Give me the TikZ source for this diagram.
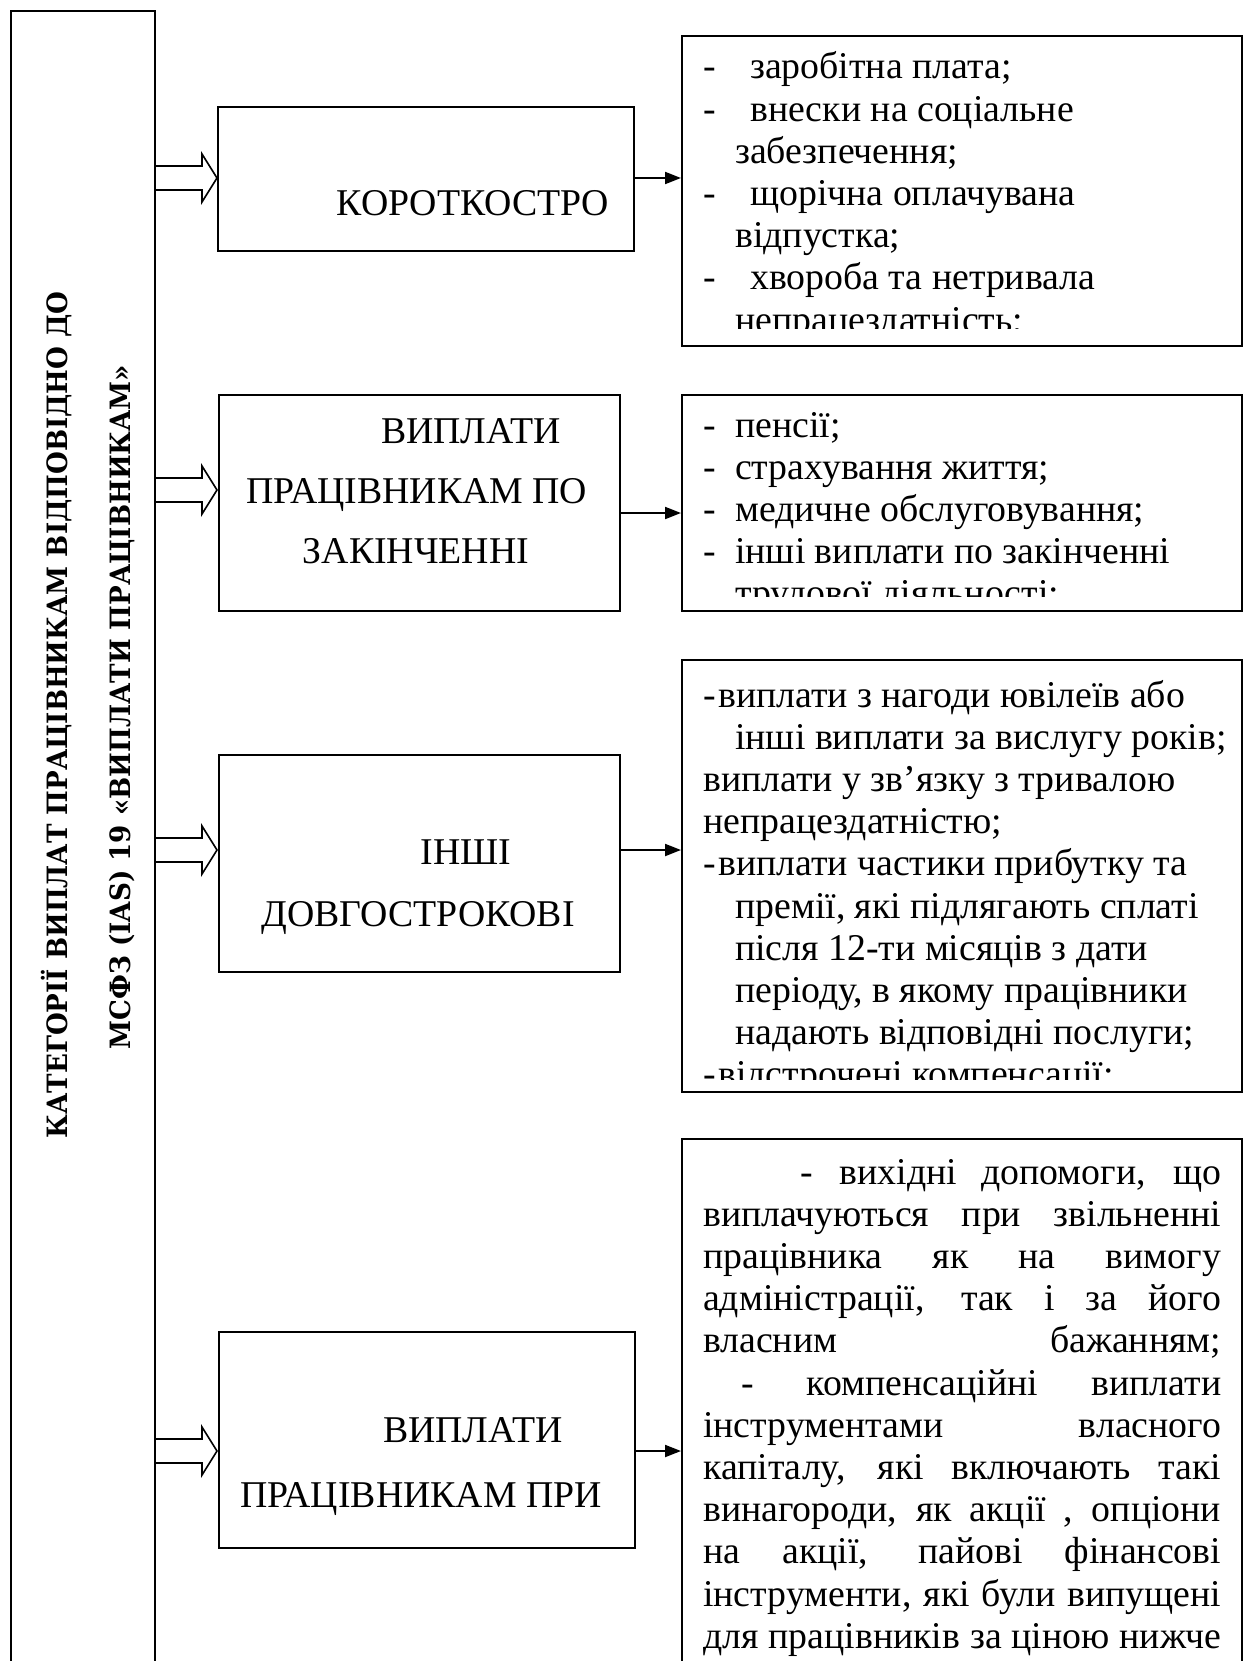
\documentclass[tikz,border=0pt]{standalone}
\usepackage{fontspec}
\setmainfont{Liberation Serif}
\newfontfamily\vfont{DejaVu Serif}
\usetikzlibrary{arrows.meta,calc}
\newcommand\dsh[1]{\makebox[#1][l]{-}}
\newcommand\ind[1]{\hspace*{#1}}
\newcommand\vsq[1]{\scalebox{0.935}[1]{#1}}
\begin{document}
\begin{tikzpicture}[x=1pt,y=-1pt,
  box/.style={draw, line width=2pt, inner sep=0pt, anchor=north west},
  lbl/.style={anchor=base, inner sep=0pt, font=\fontsize{37.8}{42}\selectfont},
  txt/.style={anchor=base west, inner sep=0pt, font=\fontsize{37.8}{42.2}\selectfont},
  vtxt/.style={rotate=90, anchor=base, inner sep=0pt, font=\vfont\bfseries\fontsize{28}{34}\selectfont},
  conn/.style={line width=2pt, -{Triangle[length=16pt,width=12pt]}},
  hollowline/.style={line width=1.6pt, line join=miter}]
\clip (0,0) rectangle (1250,1661);
\fill[white] (0,0) rectangle (1250,1661);

% left vertical box
\node[box, minimum width=144, minimum height=1800] (L) at (10,10) {};
\node[vtxt] (t1) at (67,715) {\vsq{КАТЕГОРІЇ ВИПЛАТ ПРАЦІВНИКАМ ВІДПОВІДНО ДО}};
\node[vtxt] (t2) at (130,707) {\vsq{МСФЗ (IAS) 19 «ВИПЛАТИ ПРАЦІВНИКАМ»}};

% middle boxes
\node[box, minimum width=416, minimum height=144] (b1) at (217,106) {};
\node[box, minimum width=401, minimum height=216] (b2) at (218,394) {};
\node[box, minimum width=401, minimum height=217] (b3) at (218,754) {};
\node[box, minimum width=416, minimum height=216] (b4) at (218,1331) {};

\node[lbl] (k1) at (473,216) {КОРОТКОСТРО};
\node[lbl] (k2a) at (471,443) {ВИПЛАТИ};
\node[lbl] (k2b) at (417,503) {ПРАЦІВНИКАМ ПО};
\node[lbl] (k2c) at (416,563) {ЗАКІНЧЕННІ};
\node[lbl] (k3a) at (466,864) {ІНШІ};
\node[lbl] (k3b) at (418,926) {ДОВГОСТРОКОВІ};
\node[lbl] (k4a) at (473,1442) {ВИПЛАТИ};
\node[lbl] (k4b) at (421,1507) {ПРАЦІВНИКАМ ПРИ};

% right boxes
\node[box, minimum width=560, minimum height=310] (r1) at (681,35) {};
\node[box, minimum width=560, minimum height=216] (r2) at (681,394) {};
\node[box, minimum width=560, minimum height=432] (r3) at (681,659) {};
\node[box, minimum width=560, minimum height=700] (r4) at (681,1138) {};

\begin{scope}
\clip (683,37) rectangle (1239,328);
\node[txt] (x1) at (703,79) {\parbox[t]{530pt}{%
\dsh{47pt}заробітна плата;\\
\dsh{47pt}внески на соціальне\\
\ind{32pt}забезпечення;\\
\dsh{47pt}щорічна оплачувана\\
\ind{32pt}відпустка;\\
\dsh{47pt}хвороба та нетривала\\
\ind{32pt}непрацездатність;}};
\end{scope}

\begin{scope}
\clip (683,396) rectangle (1239,596);
\node[txt] (x2) at (703,437) {\parbox[t]{530pt}{%
\dsh{32pt}пенсії;\\
\dsh{32pt}страхування життя;\\
\dsh{32pt}медичне обслуговування;\\
\dsh{32pt}інші виплати по закінченні\\
\ind{32pt}трудової діяльності;}};
\end{scope}

\begin{scope}
\clip (683,661) rectangle (1239,1079);
\node[txt] (x3) at (703,707) {\parbox[t]{530pt}{%
\dsh{15pt}виплати з нагоди ювілеїв або\\
\ind{32pt}інші виплати за вислугу років;\\
виплати у зв’язку з тривалою\\
непрацездатністю;\\
\dsh{15pt}виплати частики прибутку та\\
\ind{32pt}премії, які підлягають сплаті\\
\ind{32pt}після 12-ти місяців з дати\\
\ind{32pt}періоду, в якому працівники\\
\ind{32pt}надають відповідні послуги;\\
\dsh{15pt}відстрочені компенсації;}};
\end{scope}

\node[txt] (x4) at (703,1184) {\parbox[t]{530pt}{%
\ind{97pt}\makebox[421pt][s]{-\hspace{27pt}вихідні допомоги, що}\\
\makebox[518pt][s]{виплачуються при звільненні}\\
\makebox[518pt][s]{працівника як на вимогу}\\
\makebox[518pt][s]{адміністрації, так і за його}\\
\makebox[518pt][s]{власним бажанням;}\\
\ind{38pt}\makebox[480pt][s]{- компенсаційні виплати}\\
\makebox[518pt][s]{інструментами власного}\\
\makebox[518pt][s]{капіталу, які включають такі}\\
\makebox[518pt][s]{винагороди, як акції , опціони}\\
\makebox[518pt][s]{на акції, пайові фінансові}\\
\makebox[518pt][s]{інструменти, які були випущені}\\
\makebox[518pt][s]{для працівників за ціною нижче}}};

% hollow block arrows from the left box
\coordinate (h1) at (154,178);
\coordinate (h2) at (154,490);
\coordinate (h3) at (154,850);
\coordinate (h4) at (154,1451);
\foreach \h in {h1,h2,h3,h4}{
  \draw[hollowline] ($(\h)+(0,-12)$) -- ++(48,0) -- ++(0,-12) -- ($(\h)+(63,0)$)
    -- ($(\h)+(48,24)$) -- ++(0,-12) -- ($(\h)+(0,12)$);
}

% connectors to the right boxes
\coordinate (c1) at (0,178);
\coordinate (c2) at (0,513);
\coordinate (c3) at (0,850);
\coordinate (c4) at (0,1451);
\draw[conn] (b1.east |- c1) -- (r1.west |- c1);
\draw[conn] (b2.east |- c2) -- (r2.west |- c2);
\draw[conn] (b3.east |- c3) -- (r3.west |- c3);
\draw[conn] (b4.east |- c4) -- (r4.west |- c4);
\end{tikzpicture}
\end{document}
